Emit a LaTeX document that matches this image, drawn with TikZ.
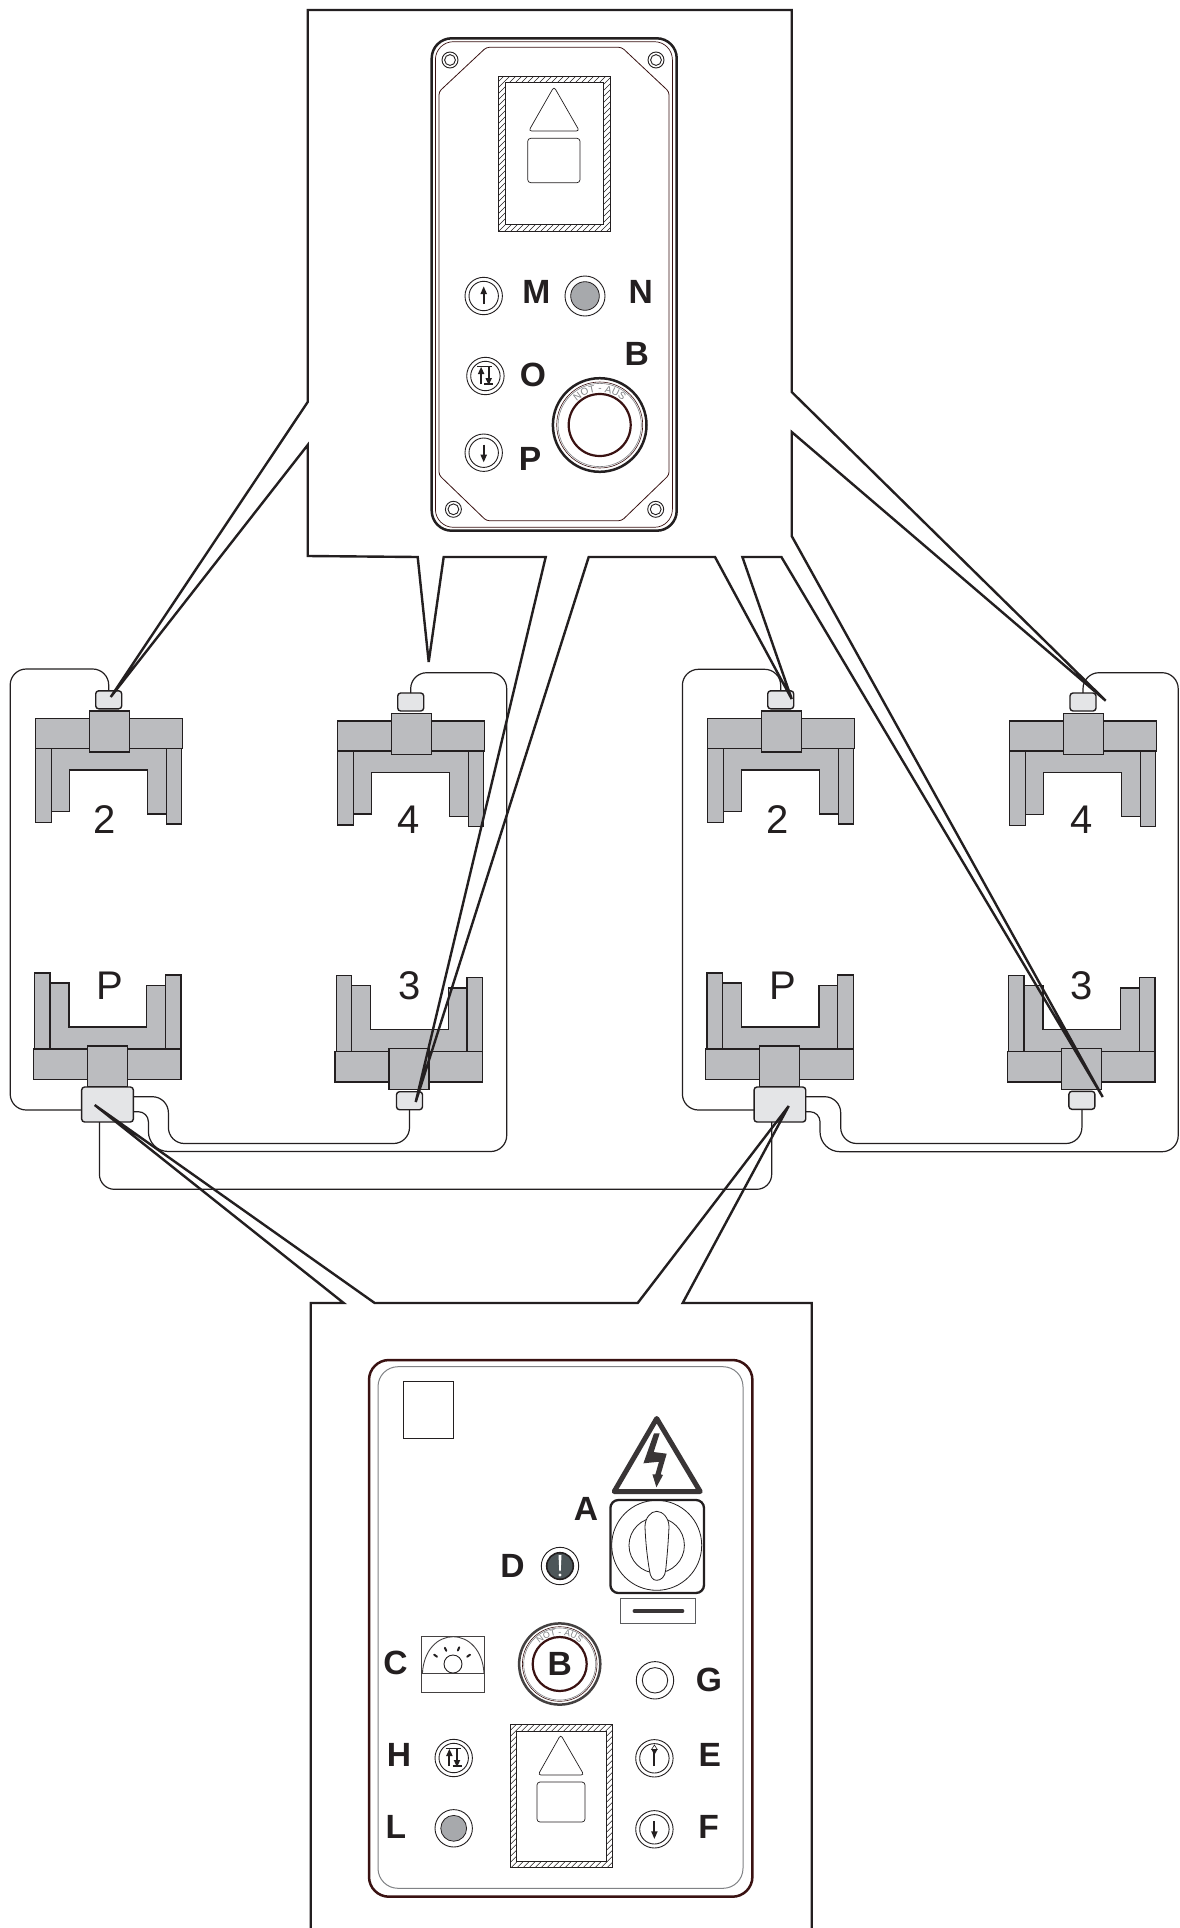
\documentclass[tikz,border=0pt]{standalone}
\usepackage{fontspec}
\setmainfont{Liberation Sans}
\usetikzlibrary{decorations.text,calc}
\definecolor{ink}{HTML}{231F20}
\definecolor{steel}{HTML}{BBBCBF}
\definecolor{pale}{HTML}{E4E5E7}
\definecolor{wine}{HTML}{3A1212}
\definecolor{lamp}{HTML}{A7A9AC}
\definecolor{slate}{HTML}{4D5659}
\definecolor{midgrey}{HTML}{808285}
\tikzset{
  part/.style={draw=ink,fill=steel,line width=.7pt,line join=miter},
  conn/.style={draw=ink,fill=pale,line width=.7pt,rounded corners=1.5pt,minimum width=13pt,minimum height=9pt,inner sep=0pt,outer sep=0pt},
  bigconn/.style={conn,minimum width=25.85pt,minimum height=17.5pt},
  cable/.style={draw=ink,line width=.6pt,fill=none},
  callout/.style={draw=ink,line width=1.2pt,fill=none,line join=miter,miter limit=4},
  lab/.style={font=\fontsize{16.8pt}{16.8pt}\selectfont\bfseries,inner sep=0pt,text=ink},
  num/.style={font=\fontsize{20pt}{20pt}\selectfont,inner sep=0pt,text=ink},
  thin/.style={draw=ink,line width=.35pt},
  ring/.style={draw=ink,line width=.45pt,fill=white},
  glyph/.style={draw=ink,line width=1pt},
  glyphhead/.style={fill=ink,draw=none},
}
\newcommand{\clampT}[2]{\begin{scope}[shift={(#1,#2)}]
  \path[part] (50.5,748) -- (50.5,811.7) -- (68.7,811.7) -- (68.7,770) -- (147,770) -- (147,814) -- (165.7,814) -- (165.7,748) -- cycle;
  \path[part] (35,748) rectangle (50.5,822.7);
  \path[part] (165.7,748) rectangle (181,824);
  \path[part] (35,718.5) rectangle (182,748.5);
  \path[part] (88.5,711) rectangle (128.5,752);
\end{scope}}
\newcommand{\clampB}[2]{\begin{scope}[shift={(#1,#2)}]
  \path[part] (49.3,1049) -- (49.3,983) -- (68.3,983) -- (68.3,1027) -- (146,1027) -- (146,985.3) -- (164.7,985.3) -- (164.7,1049) -- cycle;
  \path[part] (34,973) rectangle (49.3,1049);
  \path[part] (164.7,975) rectangle (180.3,1049);
  \path[part] (32.7,1049) rectangle (180.3,1079.3);
  \path[part] (86.7,1046) rectangle (126.7,1086.7);
\end{scope}}
\newcommand{\btn}[2]{\begin{scope}[shift={(#1,#2)}]
  \path[ring] (0,0) circle[radius=18.7];
  \path[ring] (0,0) circle[radius=14.7];
\end{scope}}
\newcommand{\arrowup}[2]{\begin{scope}[shift={(#1,#2)}]
  \draw[glyph] (0,8) -- (0,-3);
  \fill[glyphhead] (0,-9.5) -- (3.3,-2) -- (-3.3,-2) -- cycle;
\end{scope}}
\newcommand{\arrowdown}[2]{\begin{scope}[shift={(#1,#2)}]
  \draw[glyph] (0,-8) -- (0,3);
  \fill[glyphhead] (0,9.5) -- (3.3,2) -- (-3.3,2) -- cycle;
\end{scope}}
\newcommand{\updown}[2]{\begin{scope}[shift={(#1,#2)}]
  \draw[glyph,line width=.8pt] (-8,-9.5) -- (7,-9.5);
  \draw[glyph,line width=.8pt] (-1,8) -- (8,8);
  \draw[glyph] (-4.3,8) -- (-4.3,-3);
  \fill[glyphhead] (-4.3,-9) -- (-1,-2) -- (-7.6,-2) -- cycle;
  \draw[glyph] (3.3,-9) -- (3.3,3);
  \fill[glyphhead] (3.3,9) -- (6.6,2) -- (0,2) -- cycle;
\end{scope}}
\newcommand{\screw}[2]{\begin{scope}[shift={(#1,#2)}]
  \path[ring] (0,0) circle[radius=8];
  \path[ring] (0,0) circle[radius=5.4];
\end{scope}}
\newcommand{\hatchwin}[8]{%
  \path[fill=white] (#1,#2) rectangle (#3,#4);
  \begin{scope}
    \clip (#1,#2) rectangle (#3,#4);
    \foreach \k in {-226,-220,...,60}{\draw[ink,line width=.3pt] (#1+\k,#2+220) -- (#1+\k+220,#2);}
  \end{scope}
  \path[draw=ink,line width=.5pt,fill=white] (#5,#6) rectangle (#7,#8);
  \path[draw=ink,line width=.5pt] (#1,#2) rectangle (#3,#4);
}
\newcommand{\stoptext}[4]{% cx cy baseline-radius(pt) font-size(pt)
  \path[decorate,decoration={text along path,text align=center,text={|\fontsize{#4pt}{#4pt}\selectfont\color{midgrey}|NOT - AUS}}]
    ([shift={(#1,#2)}]137:#3pt) arc[start angle=137,end angle=43,radius=#3pt];
}
\begin{document}
\begin{tikzpicture}[x=0.5pt,y=-0.5pt]
\useasboundingbox (0,0) rectangle (1179,1928);
\fill[white] (0,0) rectangle (1179,1928);
\begin{scope}[shift={(0.7,0)}]

% clamps
\clampT{0}{0}
\clampT{302}{2.4}
\clampT{672}{0}
\clampT{974}{2.5}
\clampB{0}{0}
\clampB{301.7}{2.5}
\clampB{672.3}{0}
\clampB{974}{2.5}

% connector boxes
\node[conn] (c2L) at (108,699.8) {};
\node[conn] (c4L) at (410,702) {};
\node[conn] (c3L) at (408.8,1100.7) {};
\node[bigconn] (cPL) at (106.8,1104.5) {};
\node[conn] (c2R) at (780,699.8) {};
\node[conn] (c4R) at (1082.3,702) {};
\node[conn] (c3R) at (1081.2,1100.3) {};
\node[bigconn] (cPR) at (779.2,1104.5) {};

% clamp numbers
\node[num] (n2L) at (104,820) {2};
\node[num] (n4L) at (408,819.5) {4};
\node[num] (nPL) at (109.3,986) {P};
\node[num] (n3L) at (409,986) {3};
\node[num] (n2R) at (776.7,820) {2};
\node[num] (n4R) at (1080.7,820) {4};
\node[num] (nPR) at (781.7,986) {P};
\node[num] (n3R) at (1081,986) {3};

% cables
\draw[cable,rounded corners=8pt] (c2L.north) -- (108,669) -- (9.5,669) -- (9.5,1110) -- ([yshift=-2.75pt]cPL.west);
\draw[cable,rounded corners=8pt] (c4L.north) -- (410,672.7) -- (506,672.7) -- (506,1151.5) [rounded corners=10pt] -- (147.7,1151.5) [rounded corners=5pt] -- (147.7,1111.7) -- ([yshift=-3.6pt]cPL.east);
\draw[cable,rounded corners=8pt] (c3L.south) -- (408.8,1143.5) -- (167.7,1143.5) -- (167.7,1096.7) -- ([yshift=3.9pt]cPL.east);
\draw[cable,rounded corners=7.5pt] ([xshift=-4pt]cPL.south) -- (98.7,1189.3) -- (771,1189.3) -- ([xshift=-4.1pt]cPR.south);
\draw[cable,rounded corners=8pt] (c2R.north) -- (780,669.3) -- (681.7,669.3) -- (681.7,1110) -- ([yshift=-2.75pt]cPR.west);
\draw[cable,rounded corners=8pt] (c4R.north) -- (1082.3,672.7) -- (1177.5,672.7) -- (1177.5,1151.7) [rounded corners=10pt] -- (819.3,1151.7) [rounded corners=5pt] -- (819.3,1111.7) -- ([yshift=-3.6pt]cPR.east);
\draw[cable,rounded corners=8pt] (c3R.south) -- (1081.2,1143.5) -- (840,1143.5) -- (840,1096.7) -- ([yshift=3.9pt]cPR.east);

% ---- top panel
\path[draw=ink,line width=1.25pt,rounded corners=10pt,fill=white] (431,38.3) rectangle (676,530.7);
\path[draw=wine,line width=.35pt,rounded corners=9pt] (434.7,41.7) rectangle (671.7,527.3);
\path[draw=wine,line width=.4pt,rounded corners=1.5pt] (485.7,47.3) -- (621,47.3) -- (668.3,91.7) -- (668.3,475) -- (621,520.7) -- (485.7,520.7) -- (438.3,475) -- (438.3,91.7) -- cycle;
\screw{449.3}{60}
\screw{655.3}{60}
\screw{452.7}{509.3}
\screw{655}{509.3}
\hatchwin{497.3}{76}{609.3}{231.3}{504.3}{82.3}{602.7}{224.7}
\path[thin,rounded corners=1.5pt] (553.3,86.7) -- (578.7,131) -- (528,131) -- cycle;
\path[thin,rounded corners=1.5pt] (527,138.3) rectangle (579.3,182.7);
\btn{483}{296}\arrowup{483}{296}
\path[ring] (584.3,296) circle[radius=20];
\path[draw=ink,line width=.4pt,fill=lamp] (584.3,296) circle[radius=14.3];
\btn{484.7}{376}\updown{484.7}{376}
\btn{483}{452.7}\arrowdown{483}{452.7}
\path[draw=ink,line width=1.25pt,fill=white] (599,425) circle[radius=46.8];
\path[draw=wine,line width=.3pt] (599,425) circle[radius=43];
\path[draw=midgrey,line width=.3pt] (599,425) circle[radius=41.6];
\path[draw=wine,line width=1.1pt] (599,425) circle[radius=31];
\stoptext{599}{425}{16.5}{5}
\node[lab] (lM) at (535.7,291.7) {M};
\node[lab] (lN) at (640,291.7) {N};
\node[lab] (lB1) at (636,354.3) {B};
\node[lab] (lO) at (532.3,375) {O};
\node[lab] (lP) at (529.3,458.7) {P};

% ---- bottom panel
\path[draw=wine,line width=1.25pt,rounded corners=10pt,fill=white] (368.3,1360) rectangle (751.7,1896.7);
\path[draw=midgrey,line width=.5pt,rounded corners=10pt] (377.3,1366.7) rectangle (742.3,1888.3);
\path[draw=ink,line width=.35pt] (402.3,1381) rectangle (452.7,1438.3);
% warning sign
\path[draw=ink!90,line width=2.5pt,line join=round] (656,1418.5) -- (699.5,1491.5) -- (613.5,1491.5) -- cycle;
\fill[ink!90] (653.3,1433.3) -- (659,1433.3) -- (653,1452) -- (666,1453.7) -- (660,1474.3) -- (662.3,1475) -- (655.7,1487.3) -- (651.7,1474.3) -- (654.7,1474.3) -- (658.3,1461.7) -- (642.7,1463.3) -- cycle;
% main switch
\path[draw=ink,line width=1.15pt,rounded corners=4pt,fill=white] (609.7,1500) rectangle (703.3,1593);
\path[draw=ink,line width=.4pt] (656,1545.3) circle[radius=45];
\path[draw=ink,line width=.4pt] (656,1545.3) circle[radius=27.7];
\path[draw=ink,line width=.4pt,fill=white] (656,1511.3) .. controls (650,1511.3) and (644.3,1518) .. (644.3,1526.7) .. controls (645,1545) and (647,1560) .. (648.7,1570) .. controls (649.5,1577) and (652,1580.3) .. (656,1580.3) .. controls (660,1580.3) and (664.5,1577) .. (665,1570) .. controls (666,1560) and (667.5,1545) .. (668.3,1526.7) .. controls (668.3,1518) and (662,1511.3) .. (656,1511.3) -- cycle;
\path[draw=midgrey!70!black,line width=.45pt] (620,1598.3) rectangle (694.3,1623.3);
\draw[ink!90,line width=1.6pt,line cap=round] (633.5,1611) -- (682,1611);
% D
\path[ring] (559.3,1566) circle[radius=18.7];
\path[draw=ink,line width=.8pt,fill=slate] (559.3,1566) circle[radius=13.3];
\fill[white] (557.8,1555) -- (560.8,1555) -- (560,1571) -- (558.6,1571) -- cycle;
\fill[white] (559.3,1575) circle[radius=1.7];
% gauge
\path[draw=ink!85,line width=.45pt] (420.3,1636.7) rectangle (483.7,1692.7);
\draw[ink!85,line width=.45pt] (420.3,1673.3) -- (483.7,1673.3);
\draw[ink!85,line width=.45pt] (421.7,1673.3) .. controls (423,1650) and (437,1636.7) .. (452.3,1636.7) .. controls (468,1636.7) and (482,1650) .. (483.3,1673.3);
\path[ring] (452.3,1664) circle[radius=9];
\draw[ink,line width=1pt,line cap=round] (433.5,1654.7) -- (436.3,1656.7);
\draw[ink,line width=1pt,line cap=round] (444.2,1647.8) -- (445.6,1650.8);
\draw[ink,line width=1pt,line cap=round] (458.5,1647.3) -- (457.2,1650.5);
\draw[ink,line width=1pt,line cap=round] (469.3,1654.7) -- (466.5,1656.7);
% e-stop
\path[draw=ink!85,line width=1.25pt,fill=white] (559,1664) circle[radius=40.6];
\path[draw=wine,line width=.3pt] (559,1664) circle[radius=37.3];
\path[draw=midgrey,line width=.3pt] (559,1664) circle[radius=36];
\path[draw=wine,line width=1.1pt] (559,1664) circle[radius=27];
\stoptext{559}{1664}{14.4}{4.4}
\node[lab] (lB2) at (559,1664) {B};
% G
\path[ring] (654.3,1680.3) circle[radius=18.7];
\path[ring] (654.3,1680.3) circle[radius=12.7];
% window
\hatchwin{509.3}{1724.7}{611.7}{1867.7}{515.7}{1731}{605.7}{1861}
\path[thin,rounded corners=1.5pt] (560,1734.7) -- (583.3,1775) -- (537.3,1775) -- cycle;
\path[thin,rounded corners=1.5pt] (536.3,1782) rectangle (584.3,1822);
% small buttons
\btn{453}{1758}\updown{453}{1758}
\btn{653.7}{1758.3}
\draw[glyph] (653.7,1766) -- (653.7,1752);
\fill[glyphhead] (653.7,1755) -- (656.6,1749.5) -- (650.8,1749.5) -- cycle;
\draw[ink,line width=.3pt] (653.7,1745) -- (656.6,1749.5) -- (650.8,1749.5) -- cycle;
\btn{653.7}{1829.3}\arrowdown{653.7}{1829.3}
\path[ring] (453,1828.3) circle[radius=18.7];
\path[draw=ink,line width=.4pt,fill=lamp] (453,1828.3) circle[radius=12.9];
% letters
\node[lab] (lA) at (585.3,1509.3) {A};
\node[lab] (lD) at (511.7,1566) {D};
\node[lab] (lC) at (394.7,1663.3) {C};
\node[lab] (lG) at (708.3,1680.3) {G};
\node[lab] (lH) at (398.3,1755.3) {H};
\node[lab] (lE) at (709,1755.3) {E};
\node[lab] (lL) at (395.3,1826.7) {L};
\node[lab] (lF) at (708,1826.7) {F};

% ---- callouts
\draw[callout] (791,432) -- (1105,700.7) -- (791,392) -- (791,10) -- (307,10) -- (307,402) -- (110,697) -- (307,445) -- (307,556) -- (417,557) -- (428,662) -- (443,557) -- (545,557) -- (415,1102) -- (588,557) -- (714.3,557) -- (791,699) -- (741.7,557) -- (780.7,557) -- (1102,1097) -- (791,536) -- cycle;
\draw[callout] (310,1935) -- (310,1303) -- (343,1303) -- (94,1105) -- (374,1303) -- (637,1303) -- (788,1106) -- (682,1303) -- (811,1303) -- (811,1935);
\end{scope}
\end{tikzpicture}
\end{document}
